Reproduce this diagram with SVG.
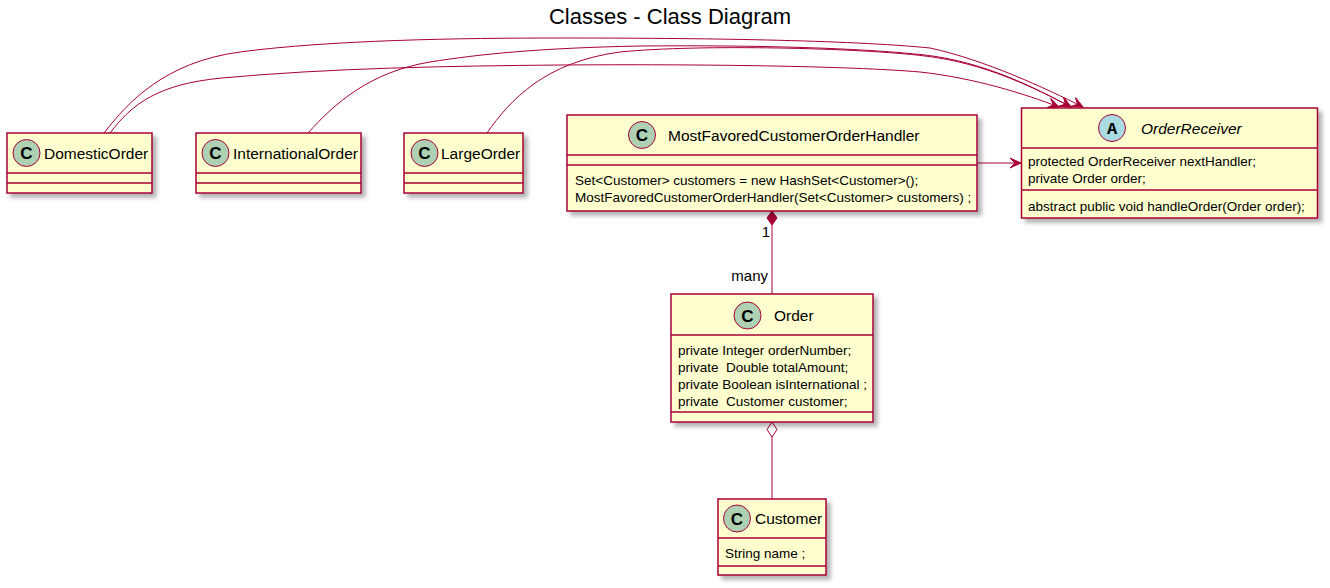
<svg xmlns="http://www.w3.org/2000/svg" width="1330" height="588" viewBox="0 0 1330 588">
  <defs>
    <filter id="shadow" x="-10%" y="-10%" width="130%" height="140%">
      <feDropShadow dx="4" dy="4" stdDeviation="2" flood-color="#000000" flood-opacity="0.3"/>
    </filter>
    <marker id="arrow" viewBox="-12 -6 13 12" refX="0" refY="0" markerWidth="13" markerHeight="12" markerUnits="userSpaceOnUse" orient="auto">
      <path d="M0,0 L-11,-5 L-6,0 L-11,5 Z" fill="#A80036" stroke="#A80036" stroke-width="1"/>
    </marker>
  </defs>
  <style>
    .box { fill: #FEFECE; stroke: #A80036; stroke-width: 1.5; filter: url(#shadow); }
    .sep { stroke: #A80036; stroke-width: 1.5; }
    .spot { fill: #ADD1B2; stroke: #A80036; stroke-width: 1; }
    .spotA { fill: #A9DCDF; stroke: #A80036; stroke-width: 1; }
    .spotC { font-family: "Liberation Sans", Arial, sans-serif; font-size: 17px; font-weight: bold; fill: #000; text-anchor: middle; }
    .spotLetterA { font-family: "Liberation Mono", "Courier New", monospace; font-size: 17px; font-weight: bold; fill: #000; text-anchor: middle; }
    .name { font-family: "Liberation Sans", Arial, sans-serif; font-size: 15.5px; fill: #000; }
    .abstract { font-style: italic; }
    .member { font-family: "Liberation Sans", Arial, sans-serif; font-size: 13.5px; fill: #000; white-space: pre; }
    .label { font-family: "Liberation Sans", Arial, sans-serif; font-size: 15px; fill: #000; }
    .title { font-family: "Liberation Sans", Arial, sans-serif; font-size: 22px; fill: #000; text-anchor: middle; }
    .edge { fill: none; stroke: #A80036; stroke-width: 1; }
  </style>

  <rect width="1330" height="588" fill="#FFFFFF"/>
  <text class="title" x="670" y="24">Classes - Class Diagram</text>

  <!-- connectors -->
  <g id="connectors">
    <path class="edge" marker-end="url(#arrow)" d="M104,133 C128,102 165,62 240,52 C330,40 460,38 560,38 C700,38 850,40 930,48 C985,60 1045,88 1083,107"/>
    <path class="edge" marker-end="url(#arrow)" d="M110,133 C132,104 158,84 222,78 C330,68 450,66 560,65 C700,64 850,66 920,72 C975,78 1025,94 1059,107"/>
    <path class="edge" marker-end="url(#arrow)" d="M308,133 C335,103 370,72 430,62 C480,54 540,48 640,46 C760,45 860,48 925,55 C985,62 1035,88 1071,107"/>
    <path class="edge" marker-end="url(#arrow)" d="M487,133 C510,100 545,62 620,52 C700,44 860,48 925,56 C985,63 1035,88 1071,107"/>
    <path class="edge" marker-end="url(#arrow)" d="M977,163 L1021,163"/>
    <!-- composition: handler owns many orders -->
    <line class="edge" x1="772" y1="225" x2="772" y2="294"/>
    <polygon points="772,211 777,218 772,225 767,218" fill="#A80036" stroke="#A80036" stroke-width="1"/>
    <text class="label" x="770" y="237" text-anchor="end">1</text>
    <text class="label" x="768" y="281" text-anchor="end">many</text>
    <!-- aggregation: order has a customer -->
    <line class="edge" x1="772" y1="437" x2="772" y2="499"/>
    <polygon points="772,422 777,429.5 772,437 767,429.5" fill="#FFFFFF" stroke="#A80036" stroke-width="1"/>
  </g>

  <g id="DomesticOrder">
    <rect class="box" x="7" y="133" width="145" height="60"/>
    <line class="sep" x1="7" y1="173" x2="152" y2="173"/>
    <line class="sep" x1="7" y1="183" x2="152" y2="183"/>
    <circle class="spot" cx="26.5" cy="153" r="13.5"/>
    <text class="spotC" x="26.5" y="159">C</text>
    <text class="name" x="44" y="159">DomesticOrder</text>
  </g>

  <g id="InternationalOrder">
    <rect class="box" x="196" y="133" width="165" height="60"/>
    <line class="sep" x1="196" y1="173" x2="361" y2="173"/>
    <line class="sep" x1="196" y1="183" x2="361" y2="183"/>
    <circle class="spot" cx="215.5" cy="153" r="13.5"/>
    <text class="spotC" x="215.5" y="159">C</text>
    <text class="name" x="233" y="159">InternationalOrder</text>
  </g>

  <g id="LargeOrder">
    <rect class="box" x="404" y="133" width="119" height="60"/>
    <line class="sep" x1="404" y1="173" x2="523" y2="173"/>
    <line class="sep" x1="404" y1="183" x2="523" y2="183"/>
    <circle class="spot" cx="424.5" cy="153" r="13.5"/>
    <text class="spotC" x="424.5" y="159">C</text>
    <text class="name" x="441" y="159">LargeOrder</text>
  </g>

  <g id="MostFavoredCustomerOrderHandler">
    <rect class="box" x="567" y="115" width="410" height="96"/>
    <line class="sep" x1="567" y1="155" x2="977" y2="155"/>
    <line class="sep" x1="567" y1="165" x2="977" y2="165"/>
    <circle class="spot" cx="642" cy="135" r="13.5"/>
    <text class="spotC" x="642" y="141">C</text>
    <text class="name" x="668" y="141">MostFavoredCustomerOrderHandler</text>
    <text class="member" x="575" y="185">Set&lt;Customer&gt; customers = new HashSet&lt;Customer&gt;();</text>
    <text class="member" x="575" y="202">MostFavoredCustomerOrderHandler(Set&lt;Customer&gt; customers) ;</text>
  </g>

  <g id="OrderReceiver">
    <rect class="box" x="1021.5" y="108" width="296" height="110"/>
    <line class="sep" x1="1021.5" y1="148" x2="1317.5" y2="148"/>
    <line class="sep" x1="1021.5" y1="190" x2="1317.5" y2="190"/>
    <circle class="spotA" cx="1112" cy="128" r="13.5"/>
    <text class="spotLetterA" x="1112" y="134">A</text>
    <text class="name abstract" x="1141" y="134">OrderReceiver</text>
    <text class="member" x="1028" y="166">protected OrderReceiver nextHandler;</text>
    <text class="member" x="1028" y="183">private Order order;</text>
    <text class="member" x="1028" y="211">abstract public void handleOrder(Order order);</text>
  </g>

  <g id="Order">
    <rect class="box" x="671" y="294" width="202" height="128"/>
    <line class="sep" x1="671" y1="335" x2="873" y2="335"/>
    <line class="sep" x1="671" y1="412" x2="873" y2="412"/>
    <circle class="spot" cx="747.5" cy="315.5" r="13.5"/>
    <text class="spotC" x="747.5" y="321.5">C</text>
    <text class="name" x="774" y="321">Order</text>
    <text class="member" x="678" y="354.5">private Integer orderNumber;</text>
    <text class="member" x="678" y="371.5">private  Double totalAmount;</text>
    <text class="member" x="678" y="388.5">private Boolean isInternational ;</text>
    <text class="member" x="678" y="405.5">private  Customer customer;</text>
  </g>

  <g id="Customer">
    <rect class="box" x="718" y="499" width="108" height="76"/>
    <line class="sep" x1="718" y1="538" x2="826" y2="538"/>
    <line class="sep" x1="718" y1="566" x2="826" y2="566"/>
    <circle class="spot" cx="737" cy="518.5" r="13.5"/>
    <text class="spotC" x="737" y="524.5">C</text>
    <text class="name" x="755" y="524">Customer</text>
    <text class="member" x="725" y="558">String name ;</text>
  </g>
</svg>
